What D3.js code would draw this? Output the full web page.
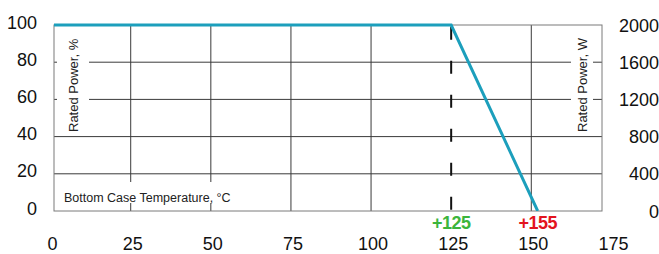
<!DOCTYPE html>
<html>
<head>
<meta charset="utf-8">
<script src="https://cdn.jsdelivr.net/npm/d3@7"></script>
<style>
  body { margin: 0; background: #fff; }
  svg { display: block; font-family: Arial, "Liberation Sans", sans-serif; }
</style>
</head>
<body>
<div id="chart"></div>
<script>
// derating curve data
var tempC = [0, 125, 152];
var ratedPct = [100, 100, 0];

// tick values
var xTicks = [0, 25, 50, 75, 100, 125, 150, 175];
var yTicksPct = [0, 20, 40, 60, 80, 100];
var yTicksW = [0, 400, 800, 1200, 1600, 2000];

// marker labels under the axis
var markTemps = [125, 152];
var markTexts = ["+125", "+155"];
var markColors = ["#3cb53c", "#e3141e"];

var svgWidth = 659;
var svgHeight = 254;

// plot frame in pixels
var frame = { left: 54, right: 602, top: 25, bottom: 211 };

var svg = d3.select("#chart")
    .append("svg")
    .attr("width", svgWidth)
    .attr("height", svgHeight);

var xScale = d3.scaleLinear().domain([0, 175]).range([50.6, 611.4]);
var yScale = d3.scaleLinear().domain([0, 100]).range([frame.bottom, frame.top]);
var yScaleW = d3.scaleLinear().domain([0, 2000]).range([frame.bottom, frame.top]);

var gridColor = "#3a3a3a";

// horizontal grid lines
svg.append("g")
    .selectAll("line")
    .data(yTicksPct.filter(d => d > 0 && d < 100))
    .enter()
    .append("line")
    .attr("x1", frame.left)
    .attr("x2", frame.right)
    .attr("y1", d => yScale(d))
    .attr("y2", d => yScale(d))
    .attr("stroke", gridColor)
    .attr("stroke-width", 1);

// vertical grid lines (not at 125, that one is dashed)
svg.append("g")
    .selectAll("line")
    .data(xTicks.filter(d => d > 0 && d < 175 && d !== 125))
    .enter()
    .append("line")
    .attr("x1", d => xScale(d))
    .attr("x2", d => xScale(d))
    .attr("y1", frame.top)
    .attr("y2", frame.bottom)
    .attr("stroke", gridColor)
    .attr("stroke-width", 1);

// white patches behind the in-plot titles
svg.append("rect")
    .attr("x", frame.left + 3).attr("y", 30)
    .attr("width", 32).attr("height", 104)
    .attr("fill", "#fff");
svg.append("rect")
    .attr("x", 571).attr("y", 30)
    .attr("width", 22).attr("height", 104)
    .attr("fill", "#fff");
svg.append("rect")
    .attr("x", frame.left + 4).attr("y", 182)
    .attr("width", 188).attr("height", 21)
    .attr("fill", "#fff");

// frame
svg.append("rect")
    .attr("x", frame.left)
    .attr("y", frame.top)
    .attr("width", frame.right - frame.left)
    .attr("height", frame.bottom - frame.top)
    .attr("fill", "none")
    .attr("stroke", "#7a7a7a")
    .attr("stroke-width", 1);

// dashed line at 125
svg.append("line")
    .attr("x1", xScale(125))
    .attr("x2", xScale(125))
    .attr("y1", yScale(100) + 1.8)
    .attr("y2", frame.bottom)
    .attr("stroke", "#111")
    .attr("stroke-width", 2)
    .attr("stroke-dasharray", "13,21");

// in-plot titles
svg.append("text")
    .attr("transform", `translate(78, 132) rotate(-90)`)
    .attr("font-size", "13px")
    .attr("fill", "#222")
    .text("Rated Power, %");

svg.append("text")
    .attr("transform", `translate(587, 132) rotate(-90)`)
    .attr("font-size", "13px")
    .attr("fill", "#222")
    .text("Rated Power, W");

svg.append("text")
    .attr("x", 64)
    .attr("y", 201.5)
    .attr("font-size", "12.5px")
    .attr("fill", "#222")
    .text("Bottom Case Temperature, °C");

// curve
svg.append("clipPath")
    .attr("id", "plotClip")
    .append("rect")
    .attr("x", frame.left)
    .attr("y", frame.top - 3)
    .attr("width", frame.right - frame.left)
    .attr("height", frame.bottom - frame.top + 3);

var line = d3.line()
    .x((d, i) => xScale(tempC[i]))
    .y(d => yScale(d));

svg.append("path")
    .datum(ratedPct)
    .attr("clip-path", "url(#plotClip)")
    .attr("d", line)
    .attr("fill", "none")
    .attr("stroke", "#1c9fbc")
    .attr("stroke-width", 3);

// left axis labels
svg.append("g")
    .selectAll("text")
    .data(yTicksPct)
    .enter()
    .append("text")
    .attr("x", 37)
    .attr("y", d => yScale(d) + 3.5)
    .attr("text-anchor", "end")
    .attr("font-size", "18px")
    .attr("fill", "#111")
    .text(d => d);

// right axis labels
svg.append("g")
    .selectAll("text")
    .data(yTicksW)
    .enter()
    .append("text")
    .attr("x", 659)
    .attr("y", d => yScaleW(d) + 6.5)
    .attr("text-anchor", "end")
    .attr("font-size", "18px")
    .attr("fill", "#111")
    .text(d => d);

// bottom axis labels
svg.append("g")
    .selectAll("text")
    .data(xTicks)
    .enter()
    .append("text")
    .attr("x", d => xScale(d) + 2)
    .attr("y", 249.5)
    .attr("text-anchor", "middle")
    .attr("font-size", "18px")
    .attr("fill", "#111")
    .text(d => d);

// coloured markers
svg.append("g")
    .selectAll("text")
    .data(markTemps)
    .enter()
    .append("text")
    .attr("x", d => xScale(d))
    .attr("y", 229)
    .attr("text-anchor", "middle")
    .attr("font-size", "18px")
    .attr("font-weight", "bold")
    .attr("letter-spacing", "-0.5px")
    .attr("fill", (d, i) => markColors[i])
    .text((d, i) => markTexts[i]);
</script>
</body>
</html>
